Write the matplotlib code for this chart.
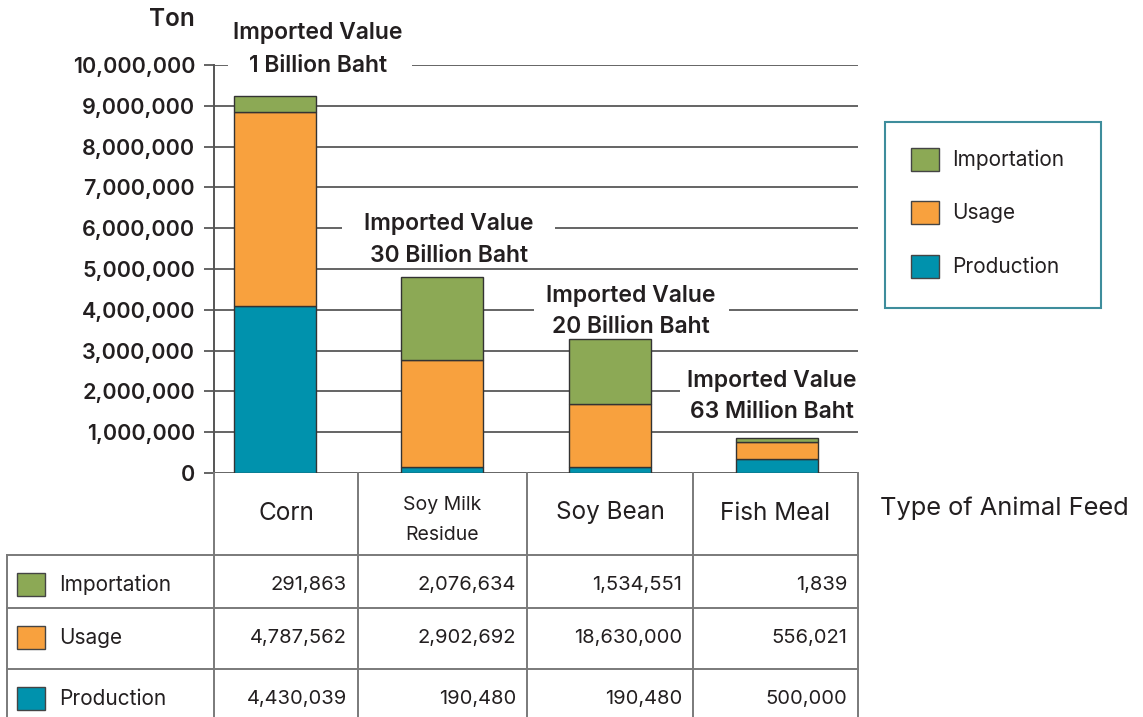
import matplotlib
matplotlib.use("Agg")
import matplotlib.pyplot as plt
from matplotlib.patches import Rectangle
import numpy as np

plt.rcParams['font.family'] = ['Inter', 'DejaVu Sans']

# bar heights as drawn in the chart (ton)
feeds = ["Corn", "Soy Milk\nResidue", "Soy Bean", "Fish Meal"]
production_bar = [4100000, 155000, 155000, 335000]
usage_bar = [4760000, 2610000, 1545000, 425000]
importation_bar = [370000, 2040000, 1580000, 90000]

# values printed in the table under the chart
importation_tbl = [291863, 2076634, 1534551, 1839]
usage_tbl = [4787562, 2902692, 18630000, 556021]
production_tbl = [4430039, 190480, 190480, 500000]

imported_value = ["1 Billion Baht", "30 Billion Baht", "20 Billion Baht", "63 Million Baht"]

series_names = ["Importation", "Usage", "Production"]
c_imp = "#8ca955"
c_use = "#f8a13e"
c_prod = "#0092ad"
txt = "#231f20"
grid_c = "#3a3a3a"

W, H = 1143, 717
fig = plt.figure(figsize=(W / 100, H / 100), dpi=100)

# main bar axes, placed in pixels
ax = fig.add_axes([214 / W, (H - 473) / H, 644 / W, 408 / H])
x = np.arange(len(feeds))
bw = 0.49
prod = np.array(production_bar)
use = np.array(usage_bar)
imp = np.array(importation_bar)
ax.bar(x, prod, bw, color=c_prod, edgecolor="#333333", lw=1, zorder=3)
ax.bar(x, use, bw, bottom=prod, color=c_use, edgecolor="#333333", lw=1, zorder=3)
ax.bar(x, imp, bw, bottom=prod + use, color=c_imp, edgecolor="#333333", lw=1, zorder=3)

ax.set_xlim(-0.365, 3.485)
ax.set_ylim(0, 10000000)
ax.set_yticks(np.arange(0, 10000001, 1000000))
ax.set_yticklabels([f"{v:,}" for v in range(0, 10000001, 1000000)])
ax.set_xticks([])
ax.yaxis.grid(True, color=grid_c, lw=1.1, zorder=0)
ax.tick_params(axis="y", length=7.5, width=1.1, color=grid_c, pad=6,
               labelsize=15.5, labelcolor=txt)
for lab in ax.get_yticklabels():
    lab.set_fontweight("semibold")
for s in ["top", "right", "bottom"]:
    ax.spines[s].set_visible(False)
ax.spines["left"].set_color("#555555")
ax.spines["left"].set_linewidth(1.4)
ax.set_axisbelow(True)

# overlay in pixel coordinates for annotations, table and legend
ov = fig.add_axes([0, 0, 1, 1], zorder=5)
ov.set_xlim(0, W)
ov.set_ylim(H, 0)
ov.axis("off")
ov.patch.set_alpha(0)

ov.text(195, 20, "Ton", ha="right", va="center", fontsize=17.5,
        fontweight="semibold", color=txt)

# imported value notes, white gaps cut the gridlines
notes = [(318, 33, 66, (228, 412, 66)),
         (449, 224, 256, (342, 555, 228)),
         (631, 296, 327, (534, 729, 310)),
         (772, 381, 412, (680, 870, 391))]
for (cx, y1, y2, gap), lab in zip(notes, imported_value):
    ov.add_patch(Rectangle((gap[0], gap[2] - 4), gap[1] - gap[0], 8,
                           facecolor="white", edgecolor="none"))
    ov.text(cx, y1, "Imported Value", ha="center", va="center", fontsize=16.5,
            fontweight="semibold", color=txt)
    ov.text(cx, y2, lab, ha="center", va="center", fontsize=16.5,
            fontweight="semibold", color=txt)

# table
col_edges = [214, 358, 527, 693, 858]
row_edges = [555, 608, 669, 740]
lc = "#7a7a7a"
for xe in col_edges:
    ov.plot([xe, xe], [473, H], color=lc, lw=1.4)
ov.plot([7, 7], [555, H], color=lc, lw=1.4)
for ye in row_edges[:-1]:
    ov.plot([7, 858], [ye, ye], color=lc, lw=1.4)

for i, name in enumerate(feeds):
    cx = (col_edges[i] + col_edges[i + 1]) / 2
    if "\n" in name:
        ov.text(cx, 520, name, ha="center", va="center", fontsize=14,
                color=txt, linespacing=1.85)
    else:
        ov.text(cx, 513, name, ha="center", va="center", fontsize=17.5, color=txt)

row_y = [585, 638, 699]
row_colors = [c_imp, c_use, c_prod]
row_vals = [importation_tbl, usage_tbl, production_tbl]
for ry, nm, col, vals in zip(row_y, series_names, row_colors, row_vals):
    ov.add_patch(Rectangle((17, ry - 12), 28, 23, facecolor=col,
                           edgecolor="#444444", lw=1))
    ov.text(59, ry, nm, ha="left", va="center", fontsize=15,
            color=txt)
    for i, v in enumerate(vals):
        ov.text(col_edges[i + 1] - 11, ry, f"{v:,}", ha="right", va="center",
                fontsize=14.5, color=txt)

ov.text(880, 508, "Type of Animal Feed", ha="left", va="center", fontsize=18.3,
        color=txt)

# legend box
ov.add_patch(Rectangle((885, 122), 216, 186, facecolor="white",
                       edgecolor="#3e8d9c", lw=1.5))
for ly, nm, col in zip([160, 213, 267], series_names, row_colors):
    ov.add_patch(Rectangle((911, ly - 12), 28, 23, facecolor=col,
                           edgecolor="#444444", lw=1))
    ov.text(952, ly, nm, ha="left", va="center", fontsize=15,
            color=txt)

fig.savefig("out.png", dpi=100)
